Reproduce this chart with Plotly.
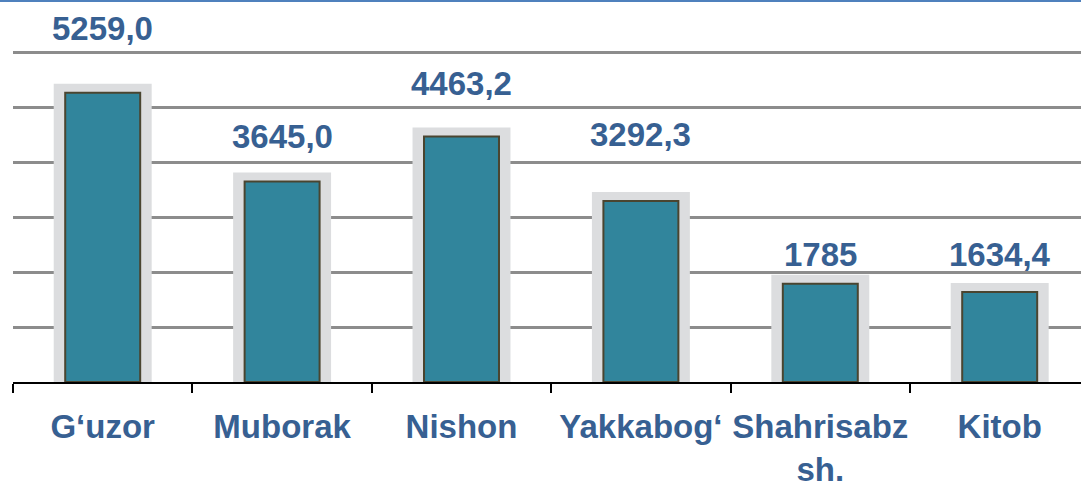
import plotly.graph_objects as go

# Tumanlar bo'yicha qiymatlar
districts = ["G‘uzor", "Muborak", "Nishon", "Yakkabog‘", "Shahrisabz<br>sh.", "Kitob"]
values = [5259.0, 3645.0, 4463.2, 3292.3, 1785.0, 1634.4]
value_labels = ["5259,0", "3645,0", "4463,2", "3292,3", "1785", "1634,4"]

# label gap above each bar, px (labels were placed by hand in the original)
label_gap = [44, 25, 33, 46, 9, 17]

W, H = 1081, 484
M_L, M_R, M_B = 13, 0, 102
GRID_TOP_PX = 52          # where the 6000 gridline sits
M_T = GRID_TOP_PX - 4     # a bit of room so plotly keeps the top gridline
px_per_unit = (H - GRID_TOP_PX - M_B) / 6000
Y_TOP = (H - M_T - M_B) / px_per_unit
halo_px = 9

text_blue = "#376092"
font_fam = "Liberation Sans, Arial, sans-serif"

fig = go.Figure()

# light gray "shadow" behind each bar
fig.add_trace(go.Bar(
    x=districts,
    y=[v + halo_px / px_per_unit for v in values],
    width=0.546,
    marker=dict(color="#DCDDDF", line=dict(width=0)),
    hoverinfo="skip",
    showlegend=False,
))

fig.add_trace(go.Bar(
    x=districts,
    y=values,
    width=0.418,
    marker=dict(color="#31859C", line=dict(color="#4A4530", width=2)),
    showlegend=False,
))

for d, v, lab, g in zip(districts, values, value_labels, label_gap):
    fig.add_annotation(
        x=d, y=v, text="<b>" + lab + "</b>",
        showarrow=False, yanchor="bottom", yshift=g,
        font=dict(family=font_fam, size=33, color=text_blue),
    )

# thin blue line along the very top of the picture
top_y = 1 + (M_T - 1) / (H - M_T - M_B)
fig.add_shape(
    type="line", xref="paper", yref="paper",
    x0=-0.02, x1=1.02, y0=top_y, y1=top_y,
    line=dict(color="#4F81BD", width=2),
)

fig.update_layout(
    width=W, height=H,
    margin=dict(l=M_L, r=M_R, t=M_T, b=M_B),
    barmode="overlay",
    paper_bgcolor="white",
    plot_bgcolor="white",
    xaxis=dict(
        type="category", automargin=False,
        range=[-0.5, -0.5 + (W - M_L - M_R) / 179.4],
        showline=True, linecolor="black", linewidth=2,
        ticks="outside", tickson="boundaries", ticklen=9, tickwidth=2, tickcolor="black",
        tickangle=0, ticklabelstandoff=14,
        tickfont=dict(family=font_fam, size=33, color=text_blue),
        tickprefix="<b>", ticksuffix="</b>",
        showgrid=False,
    ),
    yaxis=dict(
        range=[0, Y_TOP], dtick=1000, automargin=False,
        showgrid=True, gridcolor="#8C8C8C", gridwidth=2.5,
        showticklabels=False, zeroline=False, showline=False,
    ),
)

# page body has a default 8px margin; drop it so the chart sits in the corner
fig.write_html("out.html", config={"displayModeBar": False},
               post_script="document.body.style.margin='0';")
